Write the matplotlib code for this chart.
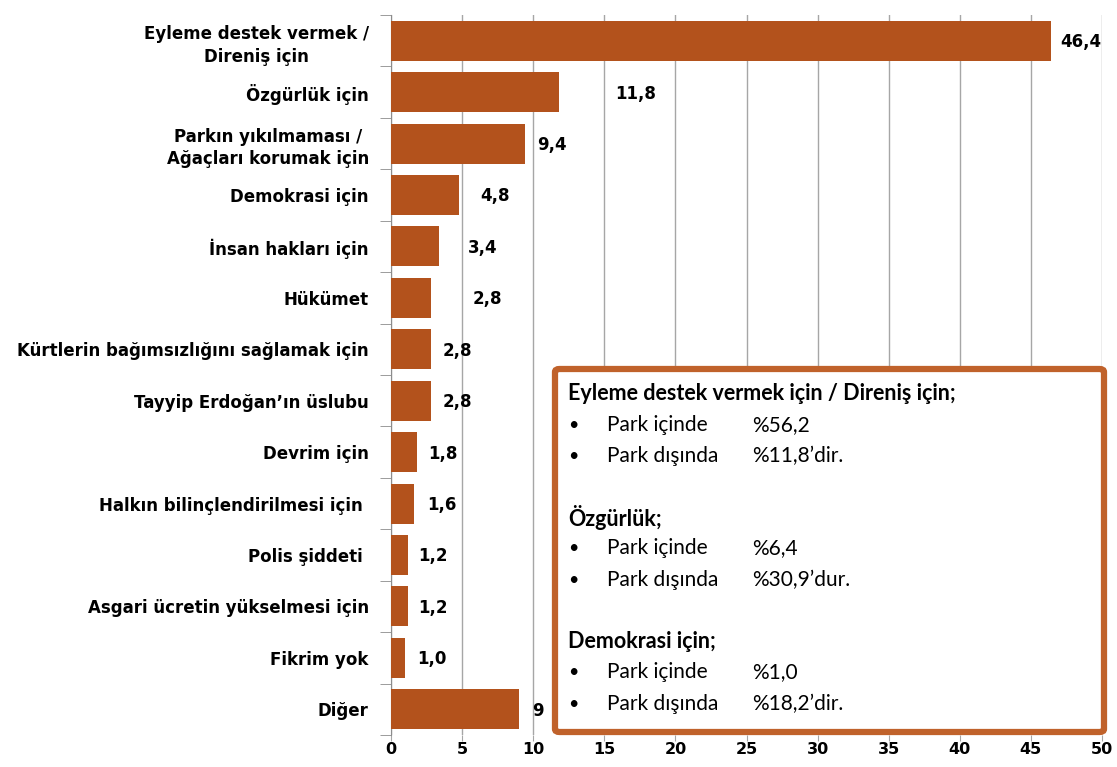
import numpy as np
import matplotlib
matplotlib.use("Agg")
import matplotlib.pyplot as plt
from matplotlib.patches import FancyBboxPatch

# data
categories = [
    "Eyleme destek vermek /\nDireniş için",
    "Özgürlük için",
    "Parkın yıkılmaması /\nAğaçları korumak için",
    "Demokrasi için",
    "İnsan hakları için",
    "Hükümet",
    "Kürtlerin bağımsızlığını sağlamak için",
    "Tayyip Erdoğan’ın üslubu",
    "Devrim için",
    "Halkın bilinçlendirilmesi için ",
    "Polis şiddeti ",
    "Asgari ücretin yükselmesi için",
    "Fikrim yok",
    "Diğer",
]
values = [46.4, 11.8, 9.4, 4.8, 3.4, 2.8, 2.8, 2.8, 1.8, 1.6, 1.2, 1.2, 1.0, 9]
value_labels = ["46,4", "11,8", "9,4", "4,8", "3,4", "2,8", "2,8", "2,8",
                "1,8", "1,6", "1,2", "1,2", "1,0", "9"]
# gap between bar end and its label, in pixels (the source is irregular)
label_gaps = [9, 56, 12, 21, 29, 42, 12, 12, 12, 13, 10, 10, 12, 13]

box_lines = [
    ("Eyleme destek vermek için / Direniş için;", None, None),
    (None, "Park içinde", "%56,2"),
    (None, "Park dışında", "%11,8’dir."),
    ("Özgürlük;", None, None),
    (None, "Park içinde", "%6,4"),
    (None, "Park dışında", "%30,9’dur."),
    ("Demokrasi için;", None, None),
    (None, "Park içinde", "%1,0"),
    (None, "Park dışında", "%18,2’dir."),
]

W, H = 1117, 767
bar_color = "#B3521C"
box_color = "#C0622B"

plt.rcParams["font.family"] = ["DejaVu Sans"]
fig = plt.figure(figsize=(W / 100, H / 100), dpi=100)
ax = fig.add_axes([391 / W, 1 - 735 / H, (1102 - 391) / W, (735 - 15) / H])

y = np.arange(len(categories))
ax.barh(y, values, height=0.78, color=bar_color, zorder=3)

ax.set_xlim(0, 50)
ax.set_ylim(len(categories) - 0.5, -0.5)
ax.set_xticks(np.arange(0, 51, 5))
ax.set_yticks(y)
ax.set_yticklabels(categories)
ax.set_yticks(np.arange(-0.5, len(categories), 1), minor=True)

ax.grid(axis="x", color="#a6a6a6", linewidth=1, zorder=0)
for s in ["top", "right", "bottom"]:
    ax.spines[s].set_visible(False)
ax.spines["left"].set_color("#8c8c8c")

ax.tick_params(axis="y", which="major", length=0, pad=16)
ax.tick_params(axis="y", which="minor", length=8, color="#8c8c8c")
ax.tick_params(axis="x", length=4, color="#a6a6a6", pad=1)

for lab in ax.get_yticklabels():
    lab.set_fontweight("bold")
    lab.set_fontsize(12)
    lab.set_multialignment("center")
    lab.set_linespacing(1.35)
for lab in ax.get_xticklabels():
    lab.set_fontweight("bold")
    lab.set_fontsize(11.5)

for yi, v, txt, gap in zip(y, values, value_labels, label_gaps):
    ax.annotate(txt, (v, yi), xytext=(gap * 0.72, -1), textcoords="offset points",
                ha="left", va="center", fontsize=12, fontweight="bold", zorder=4)

# text box over the lower right part of the chart
bx0, by0, bx1, by1 = 555, 369, 1104, 732
box = FancyBboxPatch((bx0 / W, 1 - by1 / H), (bx1 - bx0) / W, (by1 - by0) / H,
                     boxstyle="round,pad=0,rounding_size=0.004",
                     transform=fig.transFigure, facecolor="white",
                     edgecolor=box_color, linewidth=4.5, zorder=5)
fig.patches.append(box)

line_y = [393, 425, 456, 517, 548, 580, 641, 672, 704]
font = ["Lato", "DejaVu Sans"]
for ly, (head, name, val) in zip(line_y, box_lines):
    yy = 1 - ly / H
    if head:
        fig.text(568 / W, yy, head, fontsize=15.5, fontweight="bold",
                 family=font, va="center", zorder=6)
    else:
        fig.text(568 / W, yy, "•", fontsize=13, family=font,
                 va="center", zorder=6)
        fig.text(607 / W, yy, name, fontsize=15, family=font, va="center", zorder=6)
        fig.text(752 / W, yy, val, fontsize=15, family=font, va="center", zorder=6)

fig.savefig("out.png", dpi=100)
